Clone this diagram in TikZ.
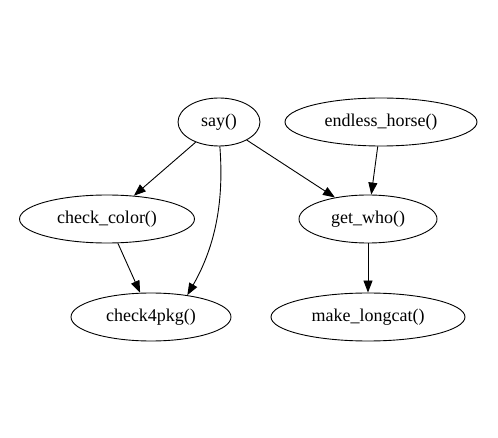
\documentclass[tikz,border=0pt]{standalone}
\usepackage{fontspec}
\setmainfont{Liberation Serif}
\usetikzlibrary{shapes.geometric,arrows.meta}
\tikzset{
  fn/.style={draw, ellipse, line width=0.9pt, inner sep=0pt, font=\fontsize{18}{21}\selectfont},
  edge/.style={line width=0.9pt, -{Triangle[length=12pt,width=9pt]}},
}
\begin{document}
\begin{tikzpicture}[x=1pt,y=-1pt]
\useasboundingbox (0,0) rectangle (498,438);
\node[fn, minimum width=82pt, minimum height=48pt] (say) at (219,122) {say()};
\node[fn, minimum width=192pt, minimum height=48pt] (horse) at (381,122) {endless\_horse()};
\node[fn, minimum width=175pt, minimum height=48pt] (color) at (107,219) {check\_color()};
\node[fn, minimum width=138pt, minimum height=48pt] (who) at (368,219) {get\_who()};
\node[fn, minimum width=160pt, minimum height=48pt] (pkg) at (151,317) {check4pkg()};
\node[fn, minimum width=194pt, minimum height=48pt] (cat) at (368,317) {make\_longcat()};
\draw[edge] (say) -- (color);
\draw[edge] (say) -- (who);
\draw[edge] (horse) -- (who);
\draw[edge] (color) -- (pkg);
\draw[edge] (who) -- (cat);
\draw[edge] (say.-88) .. controls (224,200) and (216,245) .. (pkg.31);
\end{tikzpicture}
\end{document}
